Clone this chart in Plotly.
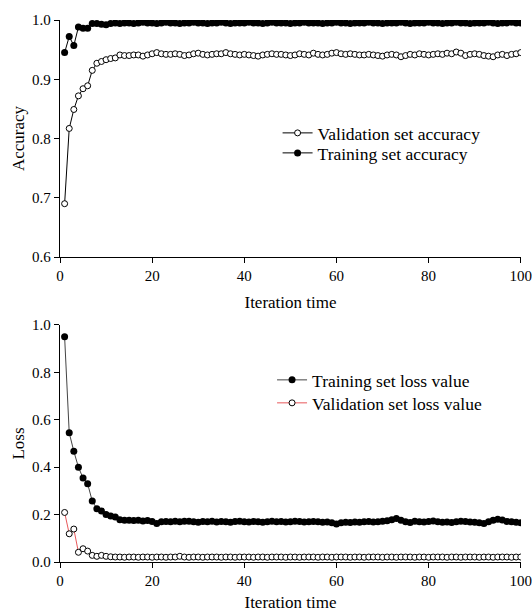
import plotly.graph_objects as go

# iteration index (1..100)
iterations = list(range(1, 101))

# accuracy curves
val_acc = [
    0.690, 0.817, 0.849, 0.872, 0.884, 0.889, 0.915, 0.927, 0.930, 0.933,
    0.935, 0.936, 0.941, 0.940, 0.940, 0.941, 0.941, 0.939, 0.941, 0.943,
    0.945, 0.943, 0.942, 0.942, 0.943, 0.942, 0.940, 0.941, 0.943, 0.944,
    0.942, 0.941, 0.942, 0.943, 0.943, 0.945, 0.943, 0.942, 0.941, 0.942,
    0.941, 0.940, 0.939, 0.941, 0.942, 0.943, 0.942, 0.942, 0.941, 0.940,
    0.941, 0.943, 0.942, 0.941, 0.944, 0.942, 0.941, 0.942, 0.944, 0.945,
    0.943, 0.942, 0.943, 0.942, 0.941, 0.941, 0.942, 0.941, 0.940, 0.939,
    0.941, 0.942, 0.941, 0.938, 0.940, 0.942, 0.941, 0.943, 0.942, 0.941,
    0.942, 0.943, 0.942, 0.944, 0.943, 0.946, 0.944, 0.940, 0.942, 0.943,
    0.942, 0.940, 0.939, 0.938, 0.941, 0.942, 0.940, 0.942, 0.943, 0.945,
]
train_acc = [
    0.945, 0.972, 0.957, 0.988, 0.986, 0.986, 0.994, 0.994, 0.993, 0.992,
    0.994, 0.995, 0.994, 0.995, 0.995, 0.994, 0.995, 0.996, 0.995, 0.995,
    0.994, 0.995, 0.996, 0.995, 0.995, 0.994, 0.995, 0.995, 0.996, 0.995,
    0.995, 0.994, 0.995, 0.995, 0.996, 0.995, 0.994, 0.995, 0.995, 0.995,
    0.996, 0.995, 0.995, 0.994, 0.995, 0.996, 0.995, 0.995, 0.995, 0.994,
    0.995, 0.995, 0.996, 0.995, 0.995, 0.995, 0.994, 0.995, 0.995, 0.996,
    0.995, 0.995, 0.994, 0.995, 0.995, 0.995, 0.996, 0.995, 0.995, 0.994,
    0.995, 0.995, 0.995, 0.996, 0.995, 0.994, 0.995, 0.995, 0.995, 0.996,
    0.995, 0.995, 0.994, 0.995, 0.995, 0.996, 0.995, 0.995, 0.994, 0.995,
    0.995, 0.995, 0.996, 0.995, 0.994, 0.995, 0.995, 0.996, 0.995, 0.995,
]

# loss curves
train_loss = [
    0.950, 0.545, 0.467, 0.400, 0.354, 0.330, 0.257, 0.225, 0.215, 0.200,
    0.194, 0.190, 0.178, 0.176, 0.176, 0.175, 0.176, 0.173, 0.175, 0.171,
    0.162, 0.170, 0.171, 0.170, 0.172, 0.170, 0.172, 0.172, 0.170, 0.168,
    0.171, 0.170, 0.172, 0.169, 0.171, 0.170, 0.168, 0.171, 0.172, 0.170,
    0.169, 0.171, 0.170, 0.168, 0.170, 0.172, 0.170, 0.171, 0.169, 0.170,
    0.172, 0.171, 0.169, 0.170, 0.171, 0.170, 0.168, 0.169, 0.166, 0.160,
    0.166, 0.168, 0.167, 0.169, 0.168, 0.170, 0.171, 0.169, 0.170, 0.172,
    0.174, 0.178, 0.183, 0.176, 0.170, 0.167, 0.172, 0.170, 0.169, 0.171,
    0.173, 0.170, 0.168, 0.169, 0.167, 0.170, 0.172, 0.171, 0.169, 0.168,
    0.166, 0.162, 0.170, 0.176, 0.180, 0.177, 0.171, 0.170, 0.168, 0.166,
]
val_loss = [
    0.209, 0.119, 0.139, 0.041, 0.056, 0.046, 0.028, 0.024, 0.028, 0.024,
    0.022, 0.021, 0.021, 0.020, 0.021, 0.021, 0.020, 0.021, 0.021, 0.020,
    0.021, 0.021, 0.020, 0.021, 0.021, 0.024, 0.021, 0.020, 0.021, 0.021,
    0.020, 0.021, 0.021, 0.021, 0.020, 0.021, 0.021, 0.020, 0.021, 0.021,
    0.021, 0.020, 0.021, 0.021, 0.020, 0.021, 0.021, 0.021, 0.020, 0.021,
    0.021, 0.020, 0.021, 0.021, 0.021, 0.020, 0.021, 0.021, 0.020, 0.021,
    0.021, 0.021, 0.020, 0.021, 0.021, 0.020, 0.021, 0.021, 0.021, 0.020,
    0.021, 0.021, 0.020, 0.021, 0.021, 0.021, 0.020, 0.021, 0.021, 0.020,
    0.021, 0.021, 0.021, 0.020, 0.021, 0.021, 0.020, 0.021, 0.021, 0.021,
    0.020, 0.021, 0.021, 0.020, 0.021, 0.021, 0.021, 0.020, 0.021, 0.021,
]

SERIF = "Liberation Serif, Times New Roman, serif"

open_marker = dict(symbol="circle", size=6, color="white", line=dict(color="black", width=1))
solid_marker = dict(symbol="circle", size=7, color="black", line=dict(color="black", width=0))

fig = go.Figure()

# upper panel (each entry gets its own legend box so rows sit where the reference has them)
fig.add_trace(go.Scatter(
    x=iterations, y=val_acc, mode="lines+markers", name="Validation set accuracy",
    line=dict(color="black", width=1), marker=open_marker,
    xaxis="x", yaxis="y", legend="legend",
))
fig.add_trace(go.Scatter(
    x=iterations, y=train_acc, mode="lines+markers", name="Training set accuracy",
    line=dict(color="black", width=1), marker=solid_marker,
    xaxis="x", yaxis="y", legend="legend2",
))

# lower panel
fig.add_trace(go.Scatter(
    x=iterations, y=train_loss, mode="lines+markers", name="Training set loss value",
    line=dict(color="#444444", width=1), marker=solid_marker,
    xaxis="x2", yaxis="y2", legend="legend3",
))
fig.add_trace(go.Scatter(
    x=iterations, y=val_loss, mode="lines+markers", name="Validation set loss value",
    line=dict(color="#e8585a", width=1), marker=open_marker,
    xaxis="x2", yaxis="y2", legend="legend4",
))

axis_common = dict(
    showline=True, linecolor="black", linewidth=1.3,
    ticks="outside", ticklen=5, tickwidth=1.3, tickcolor="black",
    showgrid=False, zeroline=False, mirror=False, automargin=False,
    ticklabeloverflow="allow",
    tickfont=dict(family=SERIF, size=15, color="black"),
)
title_font = dict(family=SERIF, size=17, color="black")

x_common = dict(axis_common, range=[0, 100.05], tickvals=[0, 20, 40, 60, 80, 100],
                title=dict(text="Iteration time", font=title_font, standoff=12))


def legend_box(x, y):
    return dict(x=x, y=y, xanchor="left", yanchor="middle", bgcolor="rgba(0,0,0,0)",
                font=dict(family=SERIF, size=17.5, color="black"), itemwidth=30,
                borderwidth=0)


fig.update_layout(
    width=532, height=612,
    margin=dict(l=60, r=11, t=20, b=50),
    paper_bgcolor="white", plot_bgcolor="white",
    showlegend=True,
    xaxis=dict(x_common, domain=[0, 1], anchor="y"),
    yaxis=dict(axis_common, domain=[0.5627, 1.0], anchor="x", range=[0.6, 1.0],
               tickvals=[0.6, 0.7, 0.8, 0.9, 1.0], tickformat=".1f",
               title=dict(text="Accuracy", font=title_font, standoff=3)),
    xaxis2=dict(x_common, domain=[0, 1], anchor="y2"),
    yaxis2=dict(axis_common, domain=[0, 0.4373], anchor="x2", range=[0, 1.0],
                tickvals=[0, 0.2, 0.4, 0.6, 0.8, 1.0], tickformat=".1f",
                title=dict(text="Loss", font=title_font, standoff=3)),
    legend=legend_box(0.472, 0.7915),
    legend2=legend_box(0.472, 0.7546),
    legend3=legend_box(0.46, 0.3358),
    legend4=legend_box(0.46, 0.2934),
)

# the page body has a default 8px margin; drop it so the figure sits at the window origin
fig.write_html("out.html", config={"displayModeBar": False},
               post_script="document.body.style.margin='0';")
